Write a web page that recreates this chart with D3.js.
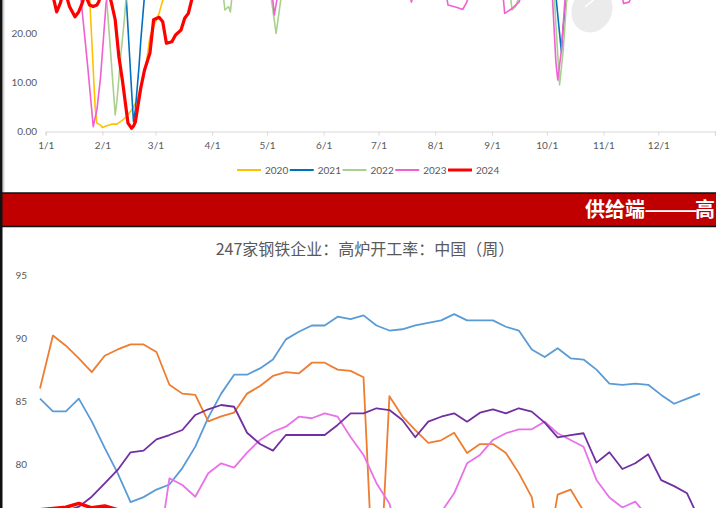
<!DOCTYPE html>
<html><head><meta charset="utf-8">
<script src="https://cdn.jsdelivr.net/npm/d3@7/dist/d3.min.js"></script>
<style>
html,body{margin:0;padding:0;background:#fff;overflow:hidden;}
svg{display:block;}
</style></head>
<body>
<svg id="c" width="716" height="508"></svg>
<script>
// ---------- Top chart data (daily, M/D in calendar year) ----------
const topMonthLabels = ["1/1","2/1","3/1","4/1","5/1","6/1","7/1","8/1","9/1","10/1","11/1","12/1"];
const topYLabels = [0, 10, 20];
const years = ["2020","2021","2022","2023","2024"];

const d2020 = ["1/1","1/15","1/24","1/25","1/28","1/29","1/31","2/1","2/3","2/6","2/9","2/12","2/14","2/17","2/20","2/23","2/25","2/27","2/29","3/3","3/5","3/8","4/1","5/1","6/1","7/1","8/1","9/1","10/1","11/1","12/1","12/31"];
const v2020 = [33,32,30,27.5,5.0,1.6,1.2,0.7,1.0,1.4,1.4,2.2,2.9,4.3,6.3,10.4,13.8,19.2,21.3,24.0,26.7,29,31,32,31,30,30,31,31,31,31,30];

const d2021 = ["1/1","2/1","2/13","2/14","2/17","2/18","2/19","2/21","2/22","2/24","3/1","4/1","6/1","9/1","10/5","10/6","10/9","10/10","10/12","10/15","11/1","12/1","12/31"];
const v2021 = [33,31,29,27.5,8.0,1.9,4.3,13,18.5,27.5,31,33,32,31,30,27.5,16.2,21.3,27.5,31,32,31,31];

const d2022 = ["1/1","2/1","2/3","2/5","2/8","2/9","2/11","2/13","2/14","3/1","4/5","4/7","4/8","4/10","4/11","4/12","4/20","5/2","5/3","5/6","5/9","5/15","7/1","9/10","9/11","9/12","9/14","9/16","9/20","10/3","10/5","10/8","10/10","10/12","10/15","11/1","12/1","12/31"];
const v2022 = [33,31,28.5,18.6,3.3,6.3,15.2,22.7,27.5,31,30,28,24.7,25.4,24.3,28,30,29,28,19.9,28,31,31,30,28,24.7,25.4,27.5,30,30,28,9.4,16.5,27.5,31,31,31,31];

const d2023 = ["1/1","1/15","1/20","1/24","1/27","1/29","1/31","2/3","2/4","2/15","4/1","5/1","5/4","5/5","5/7","5/15","6/1","7/1","7/18","7/19","7/20","8/1","8/7","8/8","8/10","8/13","8/16","8/18","8/20","9/1","9/7","9/8","9/12","9/14","9/16","9/17","10/1","10/4","10/6","10/7","10/9","10/11","10/20","11/11","11/12","11/15","11/17","12/1","12/31"];
const v2023 = [33,31,28,13.1,0.9,4.3,11,26,28.5,31,31,30,27.5,23.7,28,30,31,30,28,26.3,28,29,28,25.7,25.5,25.2,24.8,26.1,28,29,28,24.0,25.0,25.7,26.4,28,29,28,14,10.4,16.5,27,30,28,26.0,26.3,28,30,30];

const d2024 = ["1/1","1/5","1/7","1/9","1/10","1/12","1/14","1/17","1/19","1/21","1/22","1/23","1/25","1/27","1/29","1/30","1/31","2/2","2/5","2/6","2/8","2/10","2/12","2/15","2/17","2/18","2/19","2/21","2/22","2/24","2/27","2/29","3/3","3/5","3/7","3/10","3/12","3/15","3/17","3/19","3/21","3/24"];
const v2024 = [29,27.5,24.3,26.1,27.5,28,25.4,23.3,24.3,26.1,27.5,27.5,25.7,25.4,25.7,26.4,27.5,28,27.5,26.1,22.7,15.2,10.2,1.6,0.55,1.0,1.8,6.5,8.8,12.4,15.9,22.7,23.2,22.3,17.9,18.2,19.6,20.6,23.0,24.0,27.0,29];

// ---------- Bottom chart data (weekly) ----------
const bannerParts = ["供给端", "——", "高"];
const bottomTitle = "247家钢铁企业：高炉开工率：中国（周）";
const bottomYLabels = [80, 85, 90, 95];
const weeks = d3.range(1, 53);
const wBlue = [85.2,84.2,84.2,85.2,83.4,81.3,79.3,77.0,77.4,78.0,78.4,79.7,81.4,83.7,85.6,87.1,87.1,87.6,88.3,89.9,90.5,91.0,91.0,91.7,91.5,91.8,91.0,90.6,90.7,91.0,91.2,91.4,91.9,91.4,91.4,91.4,90.9,90.6,89.1,88.5,89.2,88.4,88.3,87.5,86.4,86.3,86.4,86.3,85.5,84.8,85.2,85.6];
const wOrange = [86.0,90.2,89.4,88.4,87.3,88.6,89.1,89.5,89.5,88.9,86.3,85.6,85.5,83.4,83.8,84.1,85.6,86.2,87.0,87.3,87.2,88.05,88.05,87.5,87.4,86.9,65,85.4,83.8,82.7,81.7,81.9,82.5,80.9,81.6,81.6,80.9,79.3,77.4,71.5,77.6,78.0,76.3,74.5,73.5,73,72.5,71.5,71,70.5,70.5,71];
const wPurple = [75.8,76.0,76.3,76.64,77.43,78.49,79.55,80.95,81.08,81.98,82.32,82.72,83.91,84.36,84.70,84.56,82.50,81.61,81.08,82.32,82.32,82.32,82.32,83.12,84.04,84.04,84.44,84.30,83.51,82.14,83.38,83.77,84.04,83.38,84.09,84.36,84.04,84.44,84.17,83.30,82.14,82.32,82.46,80.13,80.95,79.63,80.08,80.79,78.75,78.27,77.70,75.5];
const wPink = [75.5,75.0,74.5,74.0,73.5,73.0,72.5,72.5,72.0,72.0,78.89,78.36,77.43,79.29,80.08,79.73,80.92,81.93,82.58,82.98,83.77,83.65,84.04,83.77,82.16,80.74,78.5,76.9,73,72.5,74,76.2,77.70,80.08,80.74,81.93,82.46,82.77,82.77,83.38,82.46,81.93,81.39,78.76,77.37,76.58,77.04,75.8,75.5,75,74.8,75];
const wRed = [76.4,76.5,76.6,76.9,76.55,76.7,76.4,76.3,76.0];

// ---------- Styles ----------
const topStyle = {
  "2020": {color:"#FFC000", w:1.6},
  "2021": {color:"#0070C0", w:1.6},
  "2022": {color:"#A9D18E", w:1.6},
  "2023": {color:"#F060D0", w:1.6},
  "2024": {color:"#FF0000", w:3.2}
};
const FONT = "Lato, 'Noto Sans', 'Noto Sans CJK SC', sans-serif";
const CJK = "'Noto Sans CJK SC', 'Noto Sans', sans-serif";
const GRAY = "#595959";

const svg = d3.select("#c");
const parseMD = s => { const [m, d] = s.split("/").map(Number); return new Date(2024, m - 1, d); };

// ================= TOP CHART =================
const xT = d3.scaleTime().domain([new Date(2024,0,1), new Date(2025,0,1)]).range([45.7, 715]);
const yT = d3.scaleLinear().domain([0, 20]).range([131, 33]);

svg.append("defs").append("clipPath").attr("id","clipTop")
  .append("rect").attr("x", 44).attr("y", 0).attr("width", 672).attr("height", 133);

// watermark blob
svg.append("ellipse").attr("cx", 592).attr("cy", 10).attr("rx", 20).attr("ry", 23)
  .attr("transform","rotate(25,592,10)").attr("fill","#ebebeb");
svg.append("line").attr("x1",585).attr("y1",7).attr("x2",598).attr("y2",-4)
  .attr("stroke","#fff").attr("stroke-width",1.5);

// x axis
const tickDates = topMonthLabels.map(parseMD).concat([new Date(2025,0,1)]);
const xAxisT = d3.axisBottom(xT).tickValues(tickDates).tickSize(4)
  .tickFormat((d, i) => i < topMonthLabels.length ? topMonthLabels[i] : "");
const gx = svg.append("g").attr("transform","translate(0,131.5)").call(xAxisT);
gx.select(".domain").attr("stroke","#d9d9d9").attr("stroke-width",1.2);
gx.selectAll(".tick line").attr("stroke","#d9d9d9");
gx.selectAll(".tick text").attr("fill",GRAY).attr("font-family",FONT).attr("font-size",10).attr("dy","1.05em");

// y labels
svg.append("g").selectAll("text").data(topYLabels).join("text")
  .attr("x", 37).attr("y", d => yT(d)).attr("dy","0.35em")
  .attr("text-anchor","end").attr("fill",GRAY).attr("font-family",FONT).attr("font-size",10)
  .text(d => d.toFixed(2));

const topSeries = [
  {name:"2020", d:d2020, v:v2020},
  {name:"2021", d:d2021, v:v2021},
  {name:"2022", d:d2022, v:v2022},
  {name:"2023", d:d2023, v:v2023},
  {name:"2024", d:d2024, v:v2024}
];
const lineT = d3.line().x(p => xT(p[0])).y(p => yT(p[1]));
const gT = svg.append("g").attr("clip-path","url(#clipTop)");
topSeries.forEach(s => {
  const pts = s.d.map((dd, i) => [parseMD(dd), s.v[i]]);
  gT.append("path").datum(pts).attr("d", lineT).attr("fill","none")
    .attr("stroke", topStyle[s.name].color).attr("stroke-width", topStyle[s.name].w)
    .attr("stroke-linejoin","round");
});

// legend
const lg = svg.append("g");
years.forEach((y, i) => {
  const x0 = 237 + i * 52.75;
  lg.append("line").attr("x1", x0).attr("x2", x0 + 24).attr("y1", 170).attr("y2", 170)
    .attr("stroke", topStyle[y].color).attr("stroke-width", y === "2024" ? 3 : 2);
  lg.append("text").attr("x", x0 + 28).attr("y", 170).attr("dy","0.35em")
    .attr("fill",GRAY).attr("font-family",FONT).attr("font-size",10).text(y);
});

// ================= BANNER =================
svg.append("rect").attr("x",0).attr("y",193).attr("width",716).attr("height",34).attr("fill","#C00000");
svg.append("line").attr("x1",0).attr("x2",716).attr("y1",193).attr("y2",193).attr("stroke","#111").attr("stroke-width",1.5);
svg.append("line").attr("x1",0).attr("x2",716).attr("y1",226.5).attr("y2",226.5).attr("stroke","#111").attr("stroke-width",1.5);
const bt = svg.append("text").attr("y",210).attr("dy","0.35em")
  .attr("fill","#fff").attr("font-family",CJK).attr("font-weight",700).attr("font-size",20);
bt.append("tspan").attr("x",585).text(bannerParts[0]);
bt.append("tspan").attr("x",644).attr("textLength",54).attr("lengthAdjust","spacingAndGlyphs").text(bannerParts[1]);
bt.append("tspan").attr("x",695).text(bannerParts[2]);

// ================= BOTTOM CHART =================
const xB = d3.scaleLinear().domain([1, 52]).range([40, 700]);
const yB = d3.scaleLinear().domain([80, 95]).range([464.3, 275]);

svg.append("defs").append("clipPath").attr("id","clipBot")
  .append("rect").attr("x", 0).attr("y", 228).attr("width", 716).attr("height", 280);

svg.append("text").attr("x", 365).attr("y", 249).attr("dy","0.35em").attr("text-anchor","middle")
  .attr("fill",GRAY).attr("font-family",CJK).attr("font-size",16).text(bottomTitle);

svg.append("g").selectAll("text").data(bottomYLabels).join("text")
  .attr("x", 27).attr("y", d => yB(d)).attr("dy","0.35em").attr("text-anchor","end")
  .attr("fill",GRAY).attr("font-family",FONT).attr("font-size",10).text(d => d);

const botSeries = [
  {v:wBlue, color:"#5B9BD5", w:1.8},
  {v:wOrange, color:"#ED7D31", w:1.8},
  {v:wPink, color:"#E872E8", w:1.8},
  {v:wPurple, color:"#7030A0", w:1.8},
  {v:wRed, color:"#FF0000", w:3.5}
];
const lineB = d3.line().x(p => xB(p[0])).y(p => yB(p[1]));
const gB = svg.append("g").attr("clip-path","url(#clipBot)");
botSeries.forEach(s => {
  const pts = s.v.map((val, i) => [weeks[i], val]);
  gB.append("path").datum(pts).attr("d", lineB).attr("fill","none")
    .attr("stroke", s.color).attr("stroke-width", s.w).attr("stroke-linejoin","round");
});

// ================= FRAME =================
svg.append("rect").attr("x",0).attr("y",0).attr("width",2.5).attr("height",508).attr("fill","#111");
svg.append("line").attr("x1",3.8).attr("x2",3.8).attr("y1",0).attr("y2",192).attr("stroke","#bbb").attr("stroke-width",1);
</script>
</body></html>
